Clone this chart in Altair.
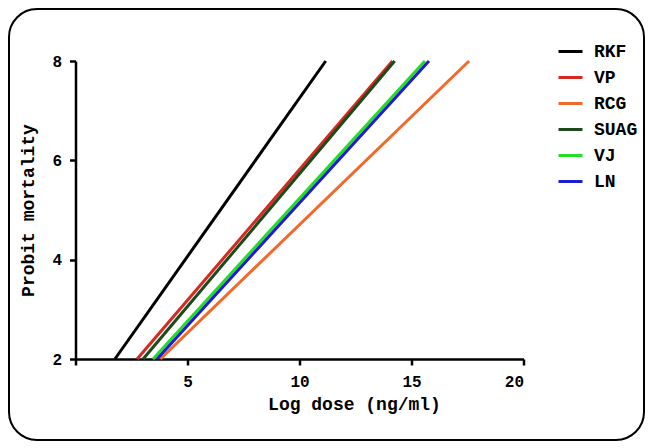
import altair as alt
import pandas as pd

series = ["RKF", "VP", "RCG", "SUAG", "VJ", "LN"]
colors = ["#000000", "#d42a20", "#f26a2a", "#1d4a1d", "#22dd22", "#1c1cd0"]
# log dose at probit 2 and at probit 8 for each line
dose_at_2 = [1.76, 2.75, 3.79, 3.02, 3.46, 3.64]
dose_at_8 = [11.17, 14.15, 17.57, 14.25, 15.60, 15.78]
probit_lo = 2
probit_hi = 8

rows = []
for s, a, b in zip(series, dose_at_2, dose_at_8):
    rows.append({"series": s, "dose": a, "probit": probit_lo, "o": 0})
    rows.append({"series": s, "dose": b, "probit": probit_hi, "o": 1})
df = pd.DataFrame(rows)

FONT = "Liberation Mono"

lines = alt.Chart(df).mark_line(strokeWidth=3, strokeCap="butt").encode(
    x=alt.X("dose:Q", scale=alt.Scale(domain=[0, 20], nice=False),
            axis=alt.Axis(values=[0, 5, 10, 15, 20], title="Log dose (ng/ml)",
                          labelExpr="datum.value == 0 ? '' : datum.label",
                          labelPadding=8, titlePadding=6, titleX=278.5, titleAlign="center")),
    y=alt.Y("probit:Q", scale=alt.Scale(domain=[2, 8], nice=False, zero=False),
            axis=alt.Axis(values=[2, 4, 6, 8], title="Probit mortality",
                          labelPadding=8, titlePadding=14)),
    color=alt.Color("series:N", scale=alt.Scale(domain=series, range=colors),
                    legend=alt.Legend(title=None, orient="none", legendX=481.5, legendY=-23,
                                      symbolType="stroke", symbolSize=576, symbolStrokeWidth=3,
                                      labelFont=FONT, labelFontSize=18, labelFontWeight="bold",
                                      labelColor="black", labelOffset=10, rowPadding=3)),
    order="o:Q",
    detail="series:N",
)

border = alt.Chart(pd.DataFrame({"a": [0]})).mark_rect(
    filled=False, stroke="black", strokeWidth=2, cornerRadius=28
).encode(
    x=alt.value(-66.5), x2=alt.value(568.5), y=alt.value(-52), y2=alt.value(379)
)

chart = alt.layer(lines, border).properties(
    width=448, height=298,
    autosize=alt.AutoSizeParams(type="none"),
    padding={"left": 67.5, "top": 53, "right": 121.5, "bottom": 82},
).configure_view(stroke=None).configure_axis(
    grid=False, labelFont=FONT, labelFontSize=16, labelFontWeight="bold", labelColor="black",
    titleFont=FONT, titleFontSize=18, titleFontWeight="bold", titleColor="black",
    domainColor="black", domainWidth=2.5, tickColor="black", tickWidth=2.5, tickSize=6,
)

chart.save("out.html", embed_options={"renderer": "svg", "actions": False})
